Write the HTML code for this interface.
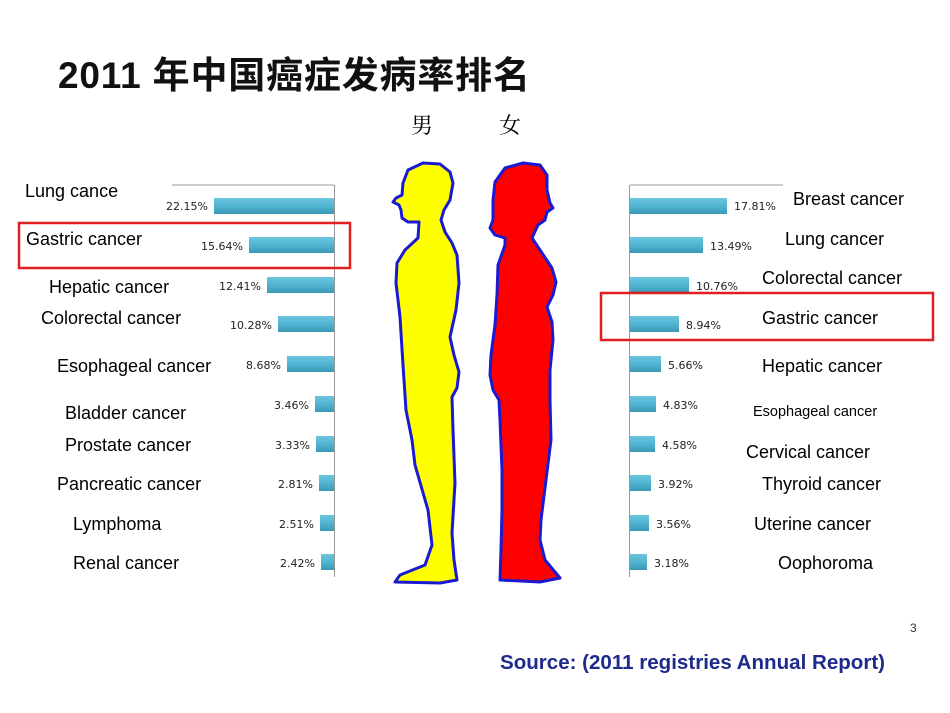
<!DOCTYPE html>
<html><head><meta charset="utf-8"><style>
html,body{margin:0;padding:0;background:#fff;width:950px;height:713px;overflow:hidden}
svg{display:block}
.n{font-family:"Liberation Sans",sans-serif;font-size:18px;fill:#000}
.p{font-family:"DejaVu Sans","Liberation Sans",sans-serif;font-size:11px;fill:#222}
</style></head><body>
<svg width="950" height="713" viewBox="0 0 950 713" xmlns="http://www.w3.org/2000/svg">
<defs><linearGradient id="g" x1="0" y1="0" x2="0" y2="1"><stop offset="0" stop-color="#6cc6de"/><stop offset="0.6" stop-color="#4bb0cf"/><stop offset="1" stop-color="#3a97b5"/></linearGradient></defs>
<text x="58" y="88" style="font-family:'Liberation Sans','Noto Sans CJK SC',sans-serif;font-size:37px;font-weight:bold" fill="#111" textLength="472">2011 年中国癌症发病率排名</text>
<text x="411" y="133" style="font-family:'Noto Serif CJK SC','Noto Sans CJK SC',serif;font-size:22px" fill="#000">男</text>
<text x="499" y="133" style="font-family:'Noto Serif CJK SC','Noto Sans CJK SC',serif;font-size:22px" fill="#000">女</text>
<line x1="172" y1="185" x2="334" y2="185" stroke="#999" stroke-width="1"/>
<line x1="334.5" y1="185" x2="334.5" y2="577" stroke="#999" stroke-width="1"/>
<line x1="630" y1="185" x2="783" y2="185" stroke="#999" stroke-width="1"/>
<line x1="629.5" y1="185" x2="629.5" y2="577" stroke="#999" stroke-width="1"/>
<g fill="url(#g)">
<rect x="214" y="198" width="120" height="16"/>
<rect x="249" y="237" width="85" height="16"/>
<rect x="267" y="277" width="67" height="16"/>
<rect x="278" y="316" width="56" height="16"/>
<rect x="287" y="356" width="47" height="16"/>
<rect x="315" y="396" width="19" height="16"/>
<rect x="316" y="436" width="18" height="16"/>
<rect x="319" y="475" width="15" height="16"/>
<rect x="320" y="515" width="14" height="16"/>
<rect x="321" y="554" width="13" height="16"/>
<rect x="630" y="198" width="97" height="16"/>
<rect x="630" y="237" width="73" height="16"/>
<rect x="630" y="277" width="59" height="16"/>
<rect x="630" y="316" width="49" height="16"/>
<rect x="630" y="356" width="31" height="16"/>
<rect x="630" y="396" width="26" height="16"/>
<rect x="630" y="436" width="25" height="16"/>
<rect x="630" y="475" width="21" height="16"/>
<rect x="630" y="515" width="19" height="16"/>
<rect x="630" y="554" width="17" height="16"/>
</g>
<g class="p" text-anchor="end">
<text x="208" y="210">22.15%</text><text x="243" y="250">15.64%</text><text x="261" y="290">12.41%</text>
<text x="272" y="329">10.28%</text><text x="281" y="369">8.68%</text><text x="309" y="409">3.46%</text>
<text x="310" y="449">3.33%</text><text x="313" y="488">2.81%</text><text x="314" y="528">2.51%</text><text x="315" y="567">2.42%</text>
</g>
<g class="p">
<text x="734" y="210">17.81%</text><text x="710" y="250">13.49%</text><text x="696" y="290">10.76%</text>
<text x="686" y="329">8.94%</text><text x="668" y="369">5.66%</text><text x="663" y="409">4.83%</text>
<text x="662" y="449">4.58%</text><text x="658" y="488">3.92%</text><text x="656" y="528">3.56%</text><text x="654" y="567">3.18%</text>
</g>
<g class="n">
<text x="25" y="197">Lung cance</text>
<text x="26" y="245">Gastric cancer</text>
<text x="49" y="293">Hepatic cancer</text>
<text x="41" y="324">Colorectal cancer</text>
<text x="57" y="372">Esophageal cancer</text>
<text x="65" y="419">Bladder cancer</text>
<text x="65" y="451">Prostate cancer</text>
<text x="57" y="490">Pancreatic cancer</text>
<text x="73" y="530">Lymphoma</text>
<text x="73" y="569">Renal cancer</text>
<text x="793" y="205">Breast cancer</text>
<text x="785" y="245">Lung cancer</text>
<text x="762" y="284">Colorectal cancer</text>
<text x="762" y="324">Gastric cancer</text>
<text x="762" y="372">Hepatic cancer</text>
<text x="753" y="416" style="font-size:14.5px">Esophageal cancer</text>
<text x="746" y="458">Cervical cancer</text>
<text x="762" y="490">Thyroid cancer</text>
<text x="754" y="530">Uterine cancer</text>
<text x="778" y="569">Oophoroma</text>
</g>
<rect x="19" y="223" width="331" height="45" fill="none" stroke="#e02020" stroke-width="2.5"/>
<rect x="601" y="293" width="332" height="47" fill="none" stroke="#e02020" stroke-width="2.5"/>
<path d="M423,163 L440,164 L450,172 L453,183 L450,200 L444,210 L441,220 L445,232 L452,243 L457,255 L459,283 L456,310 L450,337 L454,355 L459,372 L457,388 L452,397 L453,430 L455,483 L452,533 L454,560 L457,580 L440,583 L395,582 L400,575 L425,565 L432,545 L428,510 L415,465 L412,440 L406,410 L403,365 L400,317 L396,283 L397,263 L405,250 L418,238 L419,222 L408,222 L402,218 L401,210 L399,205 L393,202 L396,198 L402,195 L403,183 L408,170 Z" fill="#ffff00" stroke="#1a1ad0" stroke-width="3" stroke-linejoin="round"/>
<path d="M523,163 L540,165 L547,175 L547,190 L550,203 L553,208 L547,212 L545,220 L538,225 L532,238 L540,250 L552,268 L556,282 L553,295 L547,307 L552,322 L553,340 L550,370 L550,400 L551,440 L546,480 L541,520 L540,540 L545,560 L560,578 L540,582 L500,580 L501,550 L502,510 L502,470 L500,420 L499,400 L493,390 L490,375 L491,355 L495,325 L497,295 L498,265 L505,245 L505,238 L495,235 L490,228 L493,220 L493,200 L495,182 L505,168 Z" fill="#ff0000" stroke="#1a1ad0" stroke-width="3" stroke-linejoin="round"/>
<text x="910" y="632" style="font-family:'Liberation Sans',sans-serif;font-size:12px" fill="#333">3</text>
<text x="500" y="669" style="font-family:'Liberation Sans',sans-serif;font-size:20px;font-weight:bold" fill="#1e2a8c" textLength="385" lengthAdjust="spacingAndGlyphs">Source: (2011 registries Annual Report)</text>
</svg>
</body></html>
